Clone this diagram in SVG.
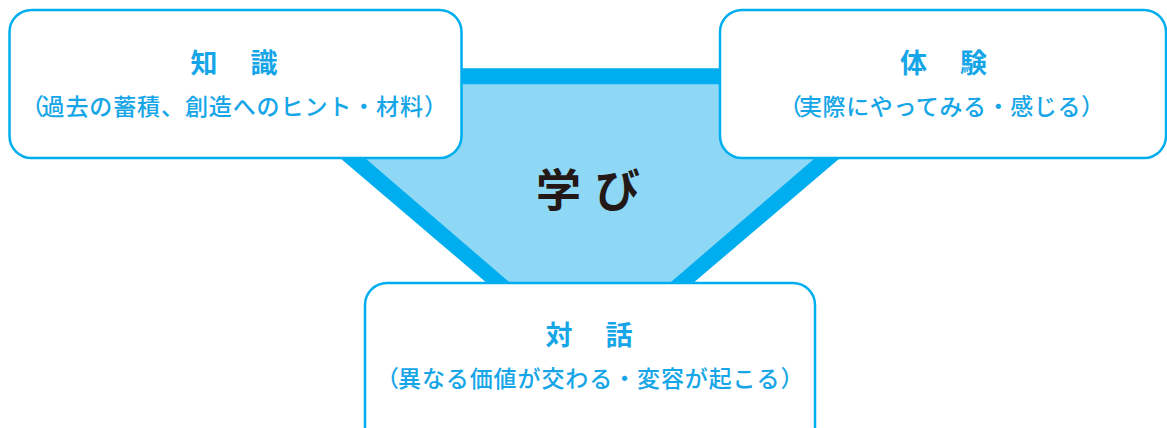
<svg xmlns="http://www.w3.org/2000/svg" width="1167" height="428" viewBox="0 0 1167 428">
  <style>
    .box { fill: #ffffff; stroke: #00aeef; stroke-width: 2.5; }
    .title { font-family: "Noto Sans CJK JP", "Noto Sans", sans-serif; font-size: 27px; font-weight: 700; fill: #16a6e8; letter-spacing: 3px; }
    .sub { font-family: "Noto Sans CJK JP", "Noto Sans", sans-serif; font-size: 23px; font-weight: 500; fill: #16a6e8; }
    .main { letter-spacing: 0.9px; }
    .center { font-family: "Noto Sans CJK JP", "Noto Sans", sans-serif; font-size: 45px; font-weight: 700; fill: #231815; letter-spacing: 14px; }
  </style>
  <rect width="1167" height="428" fill="#ffffff"/>
  <g id="funnel">
    <polygon points="234.6,68.3 945.4,68.3 673.2,300 506.8,300" fill="#00aeef"/>
    <polygon points="279.4,84.3 900.6,84.3 650.1,300 529.9,300" fill="#8ed8f6"/>
  </g>
  <g id="center-label">
    <text class="center" x="536" y="207">学び</text>
  </g>
  <g id="node-knowledge">
    <rect class="box" x="9.5" y="10" width="452" height="148" rx="22" ry="22"/>
    <text class="title" x="190.5" y="73">知　識</text>
    <text class="sub" x="21" y="114.5"><tspan style="letter-spacing:-2.5px">（</tspan><tspan class="main">過去の蓄積、創造へのヒント・材料</tspan>）</text>
  </g>
  <g id="node-experience">
    <rect class="box" x="720" y="10" width="446" height="148" rx="22" ry="22"/>
    <text class="title" x="900" y="73">体　験</text>
    <text class="sub" x="779" y="114.5"><tspan style="letter-spacing:-3px">（</tspan><tspan style="letter-spacing:0.6px">実際にやってみる・感じる</tspan>）</text>
  </g>
  <g id="node-dialogue">
    <rect class="box" x="365" y="283" width="450" height="170" rx="22" ry="22"/>
    <text class="title" x="545.5" y="344.5">対　話</text>
    <text class="sub" x="376" y="386.5"><tspan style="letter-spacing:-1px">（</tspan><tspan class="main">異なる価値が交わる・変容が起こる</tspan>）</text>
  </g>
</svg>
